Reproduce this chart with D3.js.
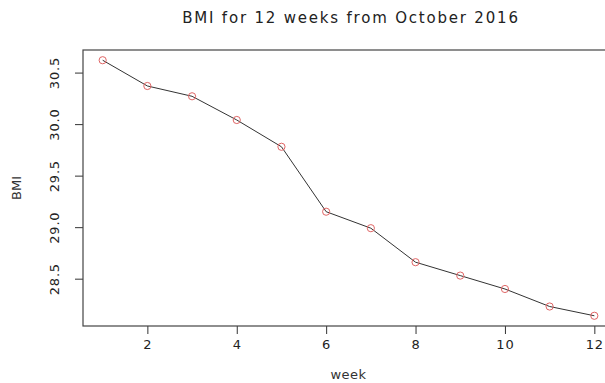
<!DOCTYPE html>
<html>
<head>
<meta charset="utf-8">
<script src="https://cdn.jsdelivr.net/npm/d3@7"></script>
<style>
  body { margin: 0; background: #fff; }
  svg { display: block; font-family: "DejaVu Sans", sans-serif; }
</style>
</head>
<body>
<svg id="chart" width="605" height="383"></svg>
<script>
// data
const weeks = [1, 2, 3, 4, 5, 6, 7, 8, 9, 10, 11, 12];
const bmi = [30.62, 30.37, 30.27, 30.04, 29.78, 29.15, 28.99, 28.66, 28.53, 28.40, 28.23, 28.14];
const xTicks = [2, 4, 6, 8, 10, 12];
const yTicks = [28.5, 29.0, 29.5, 30.0, 30.5];

const data = weeks.map((w, i) => ({ week: w, bmi: bmi[i] }));

const width = 605, height = 383;
const margin = { top: 50, right: -9, bottom: 57, left: 83 };

// R style: extend range by 4% each side
const pad = ext => { const d = (ext[1] - ext[0]) * 0.04; return [ext[0] - d, ext[1] + d]; };

const x = d3.scaleLinear()
    .domain(pad(d3.extent(weeks)))
    .range([margin.left, width - margin.right]);

const y = d3.scaleLinear()
    .domain(pad(d3.extent(bmi)))
    .range([height - margin.bottom, margin.top]);

const svg = d3.select("#chart");

// --- AXIS ---
const gx = svg.append("g")
    .attr("transform", `translate(0,${height - margin.bottom})`)
    .call(d3.axisBottom(x).tickValues(xTicks).tickSize(8).tickPadding(6));
gx.select(".domain").remove();

const gy = svg.append("g")
    .attr("transform", `translate(${margin.left},0)`)
    .call(d3.axisLeft(y).tickValues(yTicks).tickSize(8).tickFormat(d3.format(".1f")));
gy.select(".domain").remove();
gy.selectAll("text")
    .attr("transform", "rotate(-90)")
    .attr("x", 0).attr("y", -24).attr("dy", 0)
    .attr("text-anchor", "middle");

svg.selectAll(".tick line").attr("stroke", "#333");
svg.selectAll(".tick text").attr("fill", "#222")
    .style("font-family", "DejaVu Sans").style("font-size", "13px").style("letter-spacing", "0.8px");

// box
svg.append("rect")
    .attr("x", margin.left).attr("y", margin.top)
    .attr("width", width - margin.right - margin.left)
    .attr("height", height - margin.bottom - margin.top)
    .attr("fill", "none").attr("stroke", "#444").attr("stroke-width", 1.2);

// --- LINE + POINTS ---
svg.append("path").datum(data)
    .attr("fill", "none").attr("stroke", "#333").attr("stroke-width", 1)
    .attr("d", d3.line().x(d => x(d.week)).y(d => y(d.bmi)));

svg.selectAll("circle.pt").data(data).enter().append("circle")
    .attr("class", "pt")
    .attr("cx", d => x(d.week)).attr("cy", d => y(d.bmi)).attr("r", 3.6)
    .attr("fill", "none").attr("stroke", "#e06565").attr("stroke-width", 1);

// --- LABELS ---
svg.append("text")
    .attr("x", 351).attr("y", 23).attr("text-anchor", "middle")
    .style("font-size", "15px").style("letter-spacing", "1.8px").attr("fill", "#222")
    .text("BMI for 12 weeks from October 2016");

svg.append("text")
    .attr("x", (margin.left + width - margin.right) / 2).attr("y", 379).attr("text-anchor", "middle")
    .style("font-size", "13px").style("letter-spacing", "0.5px").attr("fill", "#333")
    .text("week");

svg.append("text")
    .attr("transform", `translate(21,${(margin.top + height - margin.bottom) / 2}) rotate(-90)`)
    .attr("text-anchor", "middle")
    .style("font-size", "13px").attr("fill", "#333")
    .text("BMI");
</script>
</body>
</html>
